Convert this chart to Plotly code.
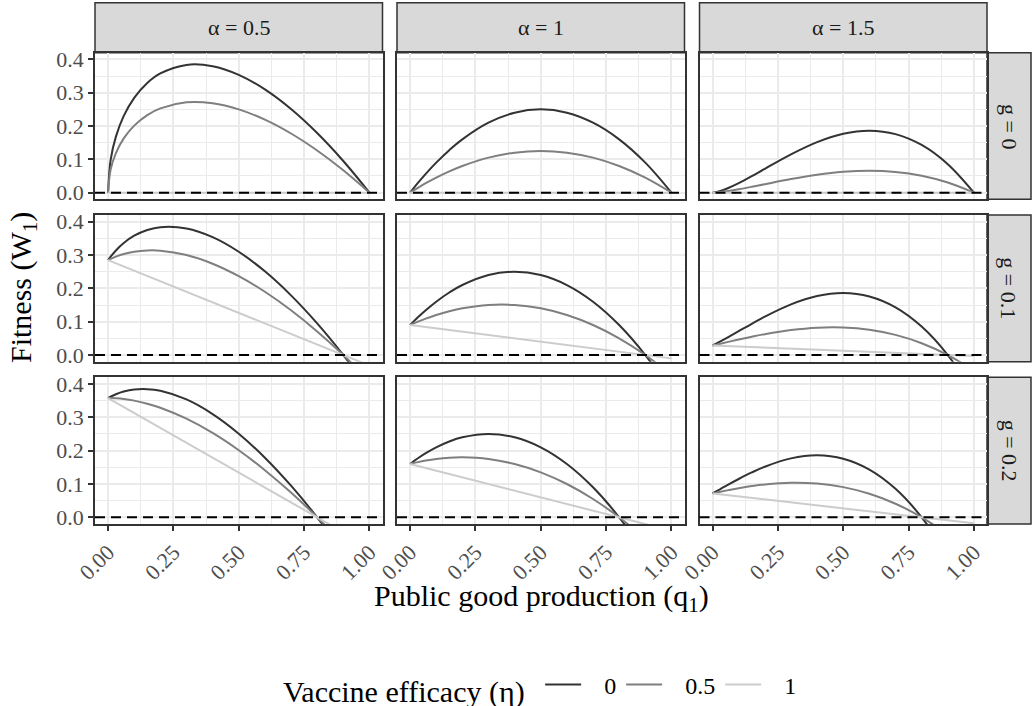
import plotly.graph_objects as go
from plotly.subplots import make_subplots

# Public good production grid for the curved series
q = [0, 0.01, 0.03, 0.06, 0.1, 0.15, 0.2, 0.3, 0.4, 0.5, 0.6, 0.7, 0.8, 0.9, 1.0]
# The eta = 1 series are straight lines, given by their two ends
q_ends = [0, 1]

alpha_labels = ["α = 0.5", "α = 1", "α = 1.5"]
g_labels = ["g = 0", "g = 0.1", "g = 0.2"]
eta_labels = ["0", "0.5", "1"]

# ---- g = 0 ----
w_g0_a05_e0 = [0, 0.099, 0.168, 0.2302, 0.2846, 0.3292, 0.3578, 0.3834, 0.3795, 0.3536, 0.3098, 0.2510, 0.1789, 0.0949, 0]
w_g0_a05_e05 = [0, 0.0700, 0.1188, 0.1628, 0.2012, 0.2328, 0.2530, 0.2711, 0.2683, 0.2500, 0.2191, 0.1775, 0.1265, 0.0671, 0]
w_g0_a05_e1 = [0, 0]
w_g0_a1_e0 = [0, 0.0099, 0.0291, 0.0564, 0.09, 0.1275, 0.16, 0.21, 0.24, 0.25, 0.24, 0.21, 0.16, 0.09, 0]
w_g0_a1_e05 = [0, 0.005, 0.0146, 0.0282, 0.045, 0.0638, 0.08, 0.105, 0.12, 0.125, 0.12, 0.105, 0.08, 0.045, 0]
w_g0_a1_e1 = [0, 0]
w_g0_a15_e0 = [0, 0.001, 0.0050, 0.0138, 0.0285, 0.0494, 0.0716, 0.1150, 0.1518, 0.1768, 0.1859, 0.1757, 0.1431, 0.0854, 0]
w_g0_a15_e05 = [0, 0.0004, 0.0018, 0.0049, 0.0101, 0.0175, 0.0253, 0.0407, 0.0537, 0.0625, 0.0657, 0.0621, 0.0506, 0.0302, 0]
w_g0_a15_e1 = [0, 0]

# ---- g = 0.1 ----
w_g01_a05_e0 = [0.2846, 0.2952, 0.3137, 0.336, 0.3578, 0.375, 0.3834, 0.3795, 0.3536, 0.3098, 0.2510, 0.1789, 0.0949, 0, -0.1049]
w_g01_a05_e05 = [0.2846, 0.2884, 0.2950, 0.3029, 0.3098, 0.3137, 0.3130, 0.3000, 0.2739, 0.2366, 0.1897, 0.1342, 0.0707, 0, -0.0775]
w_g01_a05_e1 = [0.2846, -0.0316]
w_g01_a1_e0 = [0.09, 0.0979, 0.1131, 0.1344, 0.16, 0.1875, 0.21, 0.24, 0.25, 0.24, 0.21, 0.16, 0.09, 0, -0.11]
w_g01_a1_e05 = [0.09, 0.0935, 0.1001, 0.1092, 0.12, 0.1313, 0.14, 0.15, 0.15, 0.14, 0.12, 0.09, 0.05, 0, -0.06]
w_g01_a1_e1 = [0.09, -0.01]
w_g01_a15_e0 = [0.0285, 0.0325, 0.0408, 0.0538, 0.0716, 0.0938, 0.1150, 0.1518, 0.1768, 0.1859, 0.1757, 0.1431, 0.0854, 0, -0.1154]
w_g01_a15_e05 = [0.0285, 0.0303, 0.0339, 0.0394, 0.0465, 0.0549, 0.0626, 0.075, 0.0822, 0.0828, 0.0759, 0.0604, 0.0354, 0, -0.0465]
w_g01_a15_e1 = [0.0285, -0.0032]

# ---- g = 0.2 ----
w_g02_a05_e0 = [0.3578, 0.3620, 0.3693, 0.3773, 0.3834, 0.3845, 0.3795, 0.3536, 0.3098, 0.2510, 0.1789, 0.0949, 0, -0.1049, -0.2191]
w_g02_a05_e05 = [0.3578, 0.3577, 0.3570, 0.3549, 0.35, 0.3409, 0.3286, 0.2958, 0.2530, 0.2012, 0.1414, 0.0742, 0, -0.0806, -0.1673]
w_g02_a05_e1 = [0.3578, -0.0894]
w_g02_a1_e0 = [0.16, 0.1659, 0.1771, 0.1924, 0.21, 0.2275, 0.24, 0.25, 0.24, 0.21, 0.16, 0.09, 0, -0.11, -0.24]
w_g02_a1_e05 = [0.16, 0.1620, 0.1656, 0.1702, 0.175, 0.1788, 0.18, 0.175, 0.16, 0.135, 0.1, 0.055, 0, -0.065, -0.14]
w_g02_a1_e1 = [0.16, -0.04]
w_g02_a15_e0 = [0.0716, 0.0760, 0.0849, 0.0981, 0.1150, 0.1346, 0.1518, 0.1768, 0.1859, 0.1757, 0.1431, 0.0854, 0, -0.1154, -0.2629]
w_g02_a15_e05 = [0.0716, 0.0733, 0.0768, 0.0816, 0.0875, 0.0937, 0.0986, 0.1036, 0.1012, 0.0906, 0.0707, 0.0408, 0, -0.0524, -0.1171]
w_g02_a15_e1 = [0.0716, -0.0179]

panels = [
    [(w_g0_a05_e0, w_g0_a05_e05, w_g0_a05_e1),
     (w_g0_a1_e0, w_g0_a1_e05, w_g0_a1_e1),
     (w_g0_a15_e0, w_g0_a15_e05, w_g0_a15_e1)],
    [(w_g01_a05_e0, w_g01_a05_e05, w_g01_a05_e1),
     (w_g01_a1_e0, w_g01_a1_e05, w_g01_a1_e1),
     (w_g01_a15_e0, w_g01_a15_e05, w_g01_a15_e1)],
    [(w_g02_a05_e0, w_g02_a05_e05, w_g02_a05_e1),
     (w_g02_a1_e0, w_g02_a1_e05, w_g02_a1_e1),
     (w_g02_a15_e0, w_g02_a15_e05, w_g02_a15_e1)],
]

eta_colors = ["#333333", "#7F7F7F", "#CCCCCC"]
FONT = "Liberation Serif"
W, H = 1032, 706
GAP = "\u00a0\u00a0\u00a0"  # breathing room between a legend key and its label

# panel edges in pixels
col_px = [(95, 382.5), (397, 684.5), (699.5, 987)]
row_px = [(52.7, 199.3), (215, 361.7), (377.3, 524)]

fig = make_subplots(rows=3, cols=3)

for r in range(3):
    for c in range(3):
        series = panels[r][c]
        for k in range(3):
            xs = q_ends if k == 2 else q
            fig.add_trace(
                go.Scatter(
                    x=xs, y=series[k], mode="lines",
                    line=dict(color=eta_colors[k], width=2, shape="spline" if k < 2 else "linear"),
                    name=GAP + eta_labels[k], legendgroup=eta_labels[k],
                    showlegend=(r == 0 and c == 0),
                    hoverinfo="skip",
                ),
                row=r + 1, col=c + 1,
            )
        fig.add_hline(y=0, row=r + 1, col=c + 1,
                      line=dict(color="black", width=2, dash="10px,6px"))

grid = "#EBEBEB"
border = "#333333"
for r in range(3):
    for c in range(3):
        i = r * 3 + c + 1
        sfx = "" if i == 1 else str(i)
        x0, x1 = col_px[c]
        y0, y1 = row_px[r]
        fig.layout["xaxis" + sfx].update(
            domain=[x0 / W, x1 / W], range=[-0.05, 1.05],
            tickmode="linear", tick0=0, dtick=0.25, tickformat=".2f",
            showgrid=True, gridcolor=grid, gridwidth=2,
            minor=dict(tick0=0, dtick=0.125, showgrid=True, gridcolor=grid, gridwidth=1),
            zeroline=False, showline=True, mirror=True, linecolor=border, linewidth=1.5,
            ticks="outside" if r == 2 else "", ticklen=5, tickwidth=1.5, tickcolor=border,
            showticklabels=(r == 2), tickangle=-45, automargin=False,
            tickfont=dict(family=FONT, size=22, color="#4D4D4D"),
        )
        fig.layout["yaxis" + sfx].update(
            domain=[1 - y1 / H, 1 - y0 / H], range=[-0.02, 0.42],
            tickmode="linear", tick0=0, dtick=0.1, tickformat=".1f",
            showgrid=True, gridcolor=grid, gridwidth=2,
            minor=dict(tick0=0, dtick=0.05, showgrid=True, gridcolor=grid, gridwidth=1),
            zeroline=False, showline=True, mirror=True, linecolor=border, linewidth=1.5,
            ticks="outside" if c == 0 else "", ticklen=5, tickwidth=1.5, tickcolor=border,
            showticklabels=(c == 0), automargin=False,
            tickfont=dict(family=FONT, size=22, color="#4D4D4D"),
        )

# facet strips
shapes = []
annotations = []
strip_fill = "#D9D9D9"
for c in range(3):
    x0, x1 = col_px[c]
    shapes.append(dict(type="rect", xref="paper", yref="paper",
                       x0=x0 / W, x1=x1 / W, y0=1 - 52.7 / H, y1=1 - 2.7 / H,
                       fillcolor=strip_fill, line=dict(color=border, width=1.5), layer="below"))
    annotations.append(dict(text=alpha_labels[c], xref="paper", yref="paper",
                            x=(x0 + x1) / 2 / W, y=1 - 27.7 / H, showarrow=False,
                            xanchor="center", yanchor="middle",
                            font=dict(family=FONT, size=22, color="#1A1A1A")))
for r in range(3):
    y0, y1 = row_px[r]
    shapes.append(dict(type="rect", xref="paper", yref="paper",
                       x0=987 / W, x1=1031 / W, y0=1 - y1 / H, y1=1 - y0 / H,
                       fillcolor=strip_fill, line=dict(color=border, width=1.5), layer="below"))
    annotations.append(dict(text=g_labels[r], xref="paper", yref="paper",
                            x=1009 / W, y=1 - (y0 + y1) / 2 / H, showarrow=False, textangle=90,
                            xanchor="center", yanchor="middle",
                            font=dict(family=FONT, size=22, color="#1A1A1A")))

# shared axis titles
annotations.append(dict(text="Public good production (q<sub>1</sub>)", xref="paper", yref="paper",
                        x=541 / W, y=1 - 598 / H, showarrow=False,
                        xanchor="center", yanchor="middle",
                        font=dict(family=FONT, size=30, color="black")))
annotations.append(dict(text="Fitness (W<sub>1</sub>)", xref="paper", yref="paper",
                        x=23 / W, y=1 - 288 / H, showarrow=False, textangle=-90,
                        xanchor="center", yanchor="middle",
                        font=dict(family=FONT, size=30, color="black")))

fig.update_layout(
    width=W, height=H,
    margin=dict(l=0, r=0, t=0, b=0, autoexpand=False),
    paper_bgcolor="white", plot_bgcolor="white",
    shapes=list(fig.layout.shapes) + shapes,
    annotations=annotations,
    showlegend=True,
    legend=dict(
        orientation="h", x=281 / W, xanchor="left", y=1 - 687 / H, yanchor="middle",
        title=dict(text="Vaccine efficacy (η)\u00a0", side="left",
                   font=dict(family=FONT, size=30, color="black")),
        font=dict(family=FONT, size=24, color="black"),
        itemwidth=36,
        bgcolor="rgba(0,0,0,0)",
    ),
)

fig.write_html("out.html")
